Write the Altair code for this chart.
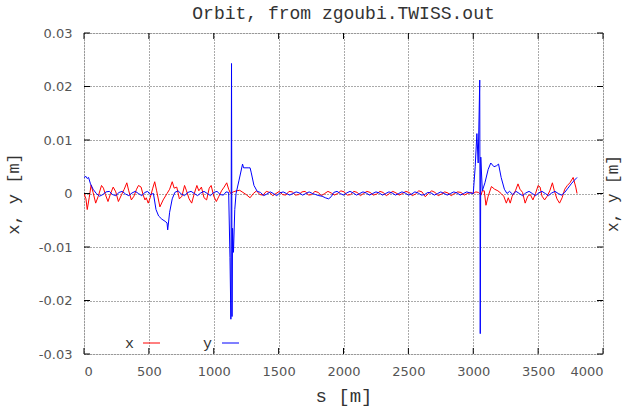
import altair as alt
import pandas as pd

# ---- data ----
s_x = [0, 15, 25, 40, 55, 70, 90, 110, 135, 150, 165, 185, 205, 225, 245, 265, 290, 310, 330, 345,
       365, 385, 405, 420, 440, 455, 470, 480, 495, 510, 530, 545, 560, 585, 610, 640, 660, 680, 695,
       715, 735, 755, 775, 790, 810, 830, 850, 870, 885, 905, 925, 945, 965, 980, 1000, 1020, 1040,
       1060, 1080, 1100, 1115, 1130, 1150, 1175, 1200, 1225, 1250, 1280, 1305, 1330, 1355, 1380, 1405,
       1430, 1455, 1480, 1505, 1530, 1555, 1580, 1605, 1630, 1655, 1680, 1705, 1730, 1755, 1780, 1805,
       1830, 1855, 1880, 1905, 1930, 1955, 1980, 2005, 2030, 2055, 2080, 2105, 2130, 2155, 2180, 2205,
       2230, 2255, 2280, 2305, 2330, 2355, 2380, 2405, 2430, 2455, 2480, 2505, 2530, 2555, 2580, 2605,
       2630, 2655, 2680, 2705, 2730, 2755, 2780, 2805, 2830, 2855, 2880, 2905, 2930, 2955, 2980, 3000,
       3020, 3040, 3060, 3070, 3085, 3098, 3115, 3140, 3165, 3190, 3215, 3235, 3255, 3270, 3285, 3300,
       3325, 3345, 3360, 3380, 3400, 3420, 3440, 3460, 3480, 3500, 3515, 3530, 3550, 3570, 3590, 3610,
       3625, 3645, 3665, 3685, 3705, 3725, 3745, 3770, 3790, 3800]
x_vals = [0.0000, -0.0010, -0.0030, -0.0008, 0.0016, 0.0002, -0.0018, -0.0005, 0.0015, 0.0010, -0.0002,
          -0.0015, 0.0000, 0.0012, 0.0003, -0.0015, -0.0002, 0.0008, 0.0020, 0.0005, -0.0012, -0.0005,
          0.0008, 0.0015, 0.0012, -0.0002, -0.0012, -0.0008, -0.0018, -0.0008, 0.0010, 0.0022, 0.0005,
          -0.0025, -0.0012, 0.0000, 0.0008, 0.0022, 0.0010, 0.0012, -0.0010, -0.0005, 0.0015, 0.0005,
          -0.0010, -0.0018, 0.0000, 0.0015, 0.0005, 0.0012, -0.0008, -0.0012, 0.0010, 0.0015, -0.0005,
          -0.0015, -0.0005, 0.0005, 0.0012, 0.0020, 0.0008, 0.0000, 0.0003, 0.0005, 0.0006, 0.0002,
          -0.0002, -0.0008, 0.0000, 0.0005, -0.0002, -0.0003, 0.0004, 0.0002, -0.0004, 0.0000, 0.0004,
          -0.0002, -0.0003, 0.0004, 0.0003, -0.0003, -0.0002, 0.0003, 0.0004, -0.0003, -0.0002, 0.0004,
          0.0002, -0.0004, 0.0000, 0.0004, 0.0001, -0.0003, 0.0000, 0.0005, 0.0003, -0.0003, -0.0002,
          0.0004, 0.0002, -0.0004, 0.0000, 0.0004, 0.0002, -0.0003, -0.0001, 0.0004, 0.0002, -0.0004,
          0.0000, 0.0004, 0.0001, -0.0003, 0.0000, 0.0004, 0.0002, -0.0004, -0.0001, 0.0005, 0.0003,
          -0.0006, 0.0000, 0.0005, 0.0002, -0.0004, -0.0001, 0.0003, 0.0001, -0.0004, 0.0000, 0.0003,
          0.0002, -0.0003, 0.0000, 0.0002, 0.0000, 0.0003, 0.0002, -0.0003, 0.0005, 0.0005, -0.0022,
          -0.0005, 0.0013, 0.0008, 0.0005, 0.0000, -0.0005, -0.0018, -0.0008, -0.0018, -0.0005, 0.0005,
          0.0018, 0.0008, 0.0002, -0.0018, -0.0005, -0.0002, -0.0012, 0.0000, 0.0015, 0.0012, -0.0005,
          -0.0012, -0.0005, 0.0005, 0.0020, 0.0005, -0.0010, -0.0018, -0.0008, 0.0008, 0.0015, 0.0020,
          0.0030, 0.0012, 0.0000]

s_y = [0, 15, 25, 35, 50, 70, 95, 120, 145, 170, 195, 220, 245, 270, 295, 320, 345, 370, 395, 420,
       445, 470, 490, 510, 535, 555, 575, 600, 625, 640, 645, 660, 680, 700, 725, 750, 775, 800, 825,
       850, 875, 900, 925, 950, 975, 1000, 1025, 1050, 1075, 1095, 1115, 1125, 1132, 1137, 1141, 1145,
       1152, 1162, 1172, 1195, 1222, 1230, 1265, 1280, 1288, 1310, 1335, 1360, 1385, 1410, 1435, 1460,
       1485, 1510, 1535, 1560, 1585, 1610, 1635, 1660, 1685, 1710, 1735, 1760, 1785, 1810, 1835, 1860,
       1885, 1905, 1925, 1950, 1975, 2000, 2025, 2050, 2075, 2100, 2125, 2150, 2175, 2200, 2225, 2250,
       2275, 2300, 2325, 2350, 2375, 2400, 2425, 2450, 2475, 2500, 2525, 2550, 2575, 2600, 2625, 2650,
       2675, 2700, 2725, 2750, 2775, 2800, 2825, 2850, 2875, 2900, 2925, 2950, 2975, 3000, 3015, 3028,
       3038, 3050, 3054, 3058, 3070, 3090, 3115, 3135, 3160, 3180, 3195, 3215, 3240, 3260, 3280, 3305,
       3330, 3355, 3380, 3405, 3430, 3455, 3480, 3505, 3530, 3555, 3580, 3605, 3630, 3655, 3680, 3705,
       3730, 3755, 3780, 3800]
y_vals = [0.0030, 0.0032, 0.0028, 0.0030, 0.0018, 0.0008, 0.0000, -0.0005, -0.0002, 0.0003, 0.0004,
          -0.0002, -0.0004, 0.0002, 0.0004, -0.0001, -0.0004, 0.0001, 0.0004, 0.0000, -0.0004, 0.0002,
          0.0004, -0.0002, 0.0000, -0.0030, -0.0042, -0.0048, -0.0052, -0.0055, -0.0068, -0.0035,
          -0.0010, 0.0002, 0.0005, -0.0001, -0.0004, 0.0002, 0.0004, 0.0000, -0.0004, 0.0001, 0.0004,
          0.0000, -0.0004, 0.0002, 0.0004, -0.0002, -0.0003, 0.0003, 0.0002, -0.0120, -0.0235, 0.0243,
          -0.0230, -0.0065, -0.0110, -0.0030, 0.0000, 0.0025, 0.0055, 0.0048, 0.0048, 0.0048, 0.0040,
          0.0015, 0.0004, 0.0002, -0.0004, -0.0001, 0.0003, 0.0000, -0.0004, 0.0001, 0.0003, 0.0000,
          -0.0003, 0.0000, 0.0003, 0.0001, -0.0003, 0.0000, 0.0003, 0.0000, -0.0002, -0.0004, -0.0005,
          -0.0008, -0.0010, -0.0006, 0.0002, 0.0004, 0.0000, -0.0003, 0.0001, 0.0004, 0.0001, -0.0003,
          0.0000, 0.0003, 0.0001, -0.0003, 0.0000, 0.0003, 0.0001, -0.0003, 0.0000, 0.0003, 0.0001,
          -0.0003, 0.0000, 0.0003, 0.0001, -0.0003, -0.0001, 0.0003, 0.0001, -0.0003, -0.0002, 0.0002,
          0.0001, -0.0003, 0.0000, 0.0003, 0.0000, -0.0003, 0.0000, 0.0003, 0.0001, -0.0003, 0.0000,
          0.0003, 0.0001, 0.0000, 0.0050, 0.0112, 0.0057, 0.0212, -0.0262, 0.0068, 0.0005, 0.0020,
          0.0045, 0.0057, 0.0050, 0.0052, 0.0055, 0.0030, 0.0008, 0.0000, 0.0004, -0.0002, 0.0004,
          0.0000, -0.0004, 0.0001, 0.0004, 0.0000, -0.0004, 0.0001, 0.0004, 0.0000, -0.0004, 0.0001,
          0.0004, 0.0000, -0.0003, 0.0002, 0.0010, 0.0018, 0.0025, 0.0030]

x_ticks = [0, 500, 1000, 1500, 2000, 2500, 3000, 3500, 4000]
y_ticks = [-0.03, -0.02, -0.01, 0, 0.01, 0.02, 0.03]
series_names = ["x", "y"]
series_colors = ["#ff0000", "#0000ff"]

W, H = 519, 321
MONO = "Liberation Mono"
SANS = "DejaVu Sans"

df = pd.concat([
    pd.DataFrame({"s": s_x, "v": x_vals, "series": "x"}),
    pd.DataFrame({"s": s_y, "v": y_vals, "series": "y"}),
], ignore_index=True)

xscale = alt.Scale(domain=[0, 4000], nice=False, zero=False)
yscale = alt.Scale(domain=[-0.03, 0.03], nice=False, zero=False)

ylabel_expr = "datum.value == 0 ? '0' : (datum.value < 0 ? '-' : '') + format(abs(datum.value), '.2f')"

lines = alt.Chart(df).mark_line(strokeWidth=1, clip=True).encode(
    x=alt.X("s:Q", scale=xscale,
            axis=alt.Axis(values=x_ticks, title="s [m]", grid=True, gridColor="#555",
                          gridDash=[1, 2], gridWidth=1, ticks=False, domain=False,
                          format="d",
                          labelFont=SANS, labelFontSize=13, labelColor="#555", labelPadding=11,
                          titleFont=MONO, titleFontSize=19, titleFontWeight="normal",
                          titleColor="#333", titlePadding=8)),
    y=alt.Y("v:Q", scale=yscale,
            axis=alt.Axis(values=y_ticks, title="x, y [m]", grid=True, gridColor="#555",
                          gridDash=[1, 2], gridWidth=1, ticks=False, domain=False,
                          labelFont=SANS, labelFontSize=13, labelColor="#555", labelPadding=12,
                          labelExpr=ylabel_expr,
                          titleFont=MONO, titleFontSize=17, titleFontWeight="normal",
                          titleColor="#333", titlePadding=16)),
    color=alt.Color("series:N", scale=alt.Scale(domain=series_names, range=series_colors),
                    legend=None),
    detail="series:N",
)

xt = pd.DataFrame({"t": x_ticks})
yt = pd.DataFrame({"t": y_ticks})

tick_top = alt.Chart(xt).mark_rule(color="#000", strokeWidth=1).encode(
    x=alt.X("t:Q", scale=xscale), y=alt.value(0), y2=alt.value(6))
tick_bot = alt.Chart(xt).mark_rule(color="#000", strokeWidth=1).encode(
    x=alt.X("t:Q", scale=xscale), y=alt.value(H - 6), y2=alt.value(H))
tick_left = alt.Chart(yt).mark_rule(color="#000", strokeWidth=1).encode(
    y=alt.Y("t:Q", scale=yscale), x=alt.value(0), x2=alt.value(6))
tick_right = alt.Chart(yt).mark_rule(color="#000", strokeWidth=1).encode(
    y=alt.Y("t:Q", scale=yscale), x=alt.value(W - 6), x2=alt.value(W))

right_title = alt.Chart(pd.DataFrame({"t": ["x, y [m]"]})).mark_text(
    font=MONO, fontSize=16, color="#333", angle=270, align="center", baseline="middle"
).encode(text="t:N", x=alt.value(W + 10), y=alt.value(H / 2))

leg_x_text = alt.Chart(pd.DataFrame({"t": ["x"]})).mark_text(
    font=MONO, fontSize=15, color="#333", align="right", baseline="middle"
).encode(text="t:N", x=alt.value(50), y=alt.value(H - 11))
leg_x_line = alt.Chart(pd.DataFrame({"t": ["x"]})).mark_rule(color="#ff0000", strokeWidth=1).encode(
    x=alt.value(59), x2=alt.value(76), y=alt.value(H - 11))
leg_y_text = alt.Chart(pd.DataFrame({"t": ["y"]})).mark_text(
    font=MONO, fontSize=15, color="#333", align="right", baseline="middle"
).encode(text="t:N", x=alt.value(128), y=alt.value(H - 11))
leg_y_line = alt.Chart(pd.DataFrame({"t": ["y"]})).mark_rule(color="#0000ff", strokeWidth=1).encode(
    x=alt.value(138), x2=alt.value(155), y=alt.value(H - 11))

chart = alt.layer(
    lines, tick_top, tick_bot, tick_left, tick_right, right_title,
    leg_x_text, leg_x_line, leg_y_text, leg_y_line
).properties(
    width=W, height=H,
    title=alt.TitleParams("Orbit, from zgoubi.TWISS.out", font=MONO, fontSize=18,
                          fontWeight="normal", color="#333", anchor="middle", offset=4),
    autosize=alt.AutoSizeParams(type="none"),
    padding={"left": 84, "top": 33, "right": 20, "bottom": 57},
).configure_view(stroke="#000", strokeWidth=1.5).configure(background="white")

chart.save("out.html", embed_options={"renderer": "svg", "actions": False})
